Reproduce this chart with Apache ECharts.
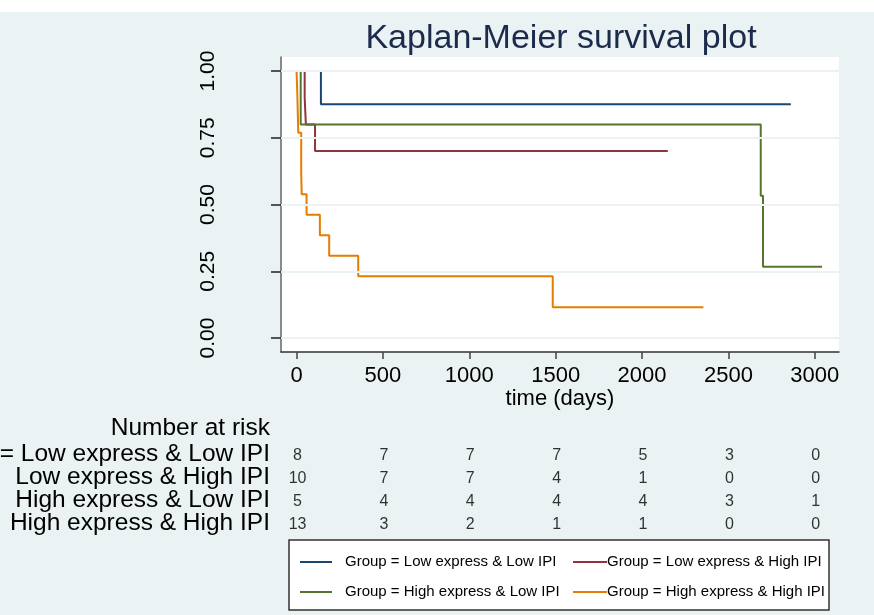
<!DOCTYPE html>
<html><head><meta charset="utf-8">
<script src="https://cdn.jsdelivr.net/npm/echarts@6/dist/echarts.min.js"></script>
<style>html,body{margin:0;padding:0;background:#fff}#c{width:874px;height:615px}</style>
</head><body><div id="c"></div>
<script>
// ---- data ----
const groupNames = ['Low express & Low IPI', 'Low express & High IPI', 'High express & Low IPI', 'High express & High IPI'];
const seriesNames = groupNames.map(g => 'Group = ' + g);
const riskRowLabels = ['Group = Low express & Low IPI', 'Low express & High IPI', 'High express & Low IPI', 'High express & High IPI'];

const timesLowLow = [0, 141, 2861];
const survLowLow = [1, 0.875, 0.875];
const timesLowHigh = [0, 47, 54, 107, 2149];
const survLowHigh = [1, 0.9, 0.8, 0.7, 0.7];
const timesHighLow = [0, 24, 2687, 2700, 3042];
const survHighLow = [1, 0.8, 0.533, 0.267, 0.267];
const timesHighHigh = [0, 4, 10, 27, 30, 58, 135, 189, 357, 1483, 2355];
const survHighHigh = [1, 0.923, 0.769, 0.615, 0.538, 0.462, 0.385, 0.308, 0.231, 0.115, 0.115];

const riskTimes = [0, 500, 1000, 1500, 2000, 2500, 3000];
const riskLowLow = [8, 7, 7, 7, 5, 3, 0];
const riskLowHigh = [10, 7, 7, 4, 1, 0, 0];
const riskHighLow = [5, 4, 4, 4, 4, 3, 1];
const riskHighHigh = [13, 3, 2, 1, 1, 0, 0];

const xTicks = [0, 500, 1000, 1500, 2000, 2500, 3000];
const yTicks = [0, 0.25, 0.5, 0.75, 1];

// ---- build ----
const colors = ['#1a476f', '#90353b', '#55752f', '#e37e00'];
const curveTimes = [timesLowLow, timesLowHigh, timesHighLow, timesHighHigh];
const curveSurv = [survLowLow, survLowHigh, survHighLow, survHighHigh];
const riskRows = [riskLowLow, riskLowHigh, riskHighLow, riskHighHigh];
const FONT = 'Liberation Sans, Arial, Helvetica, sans-serif';

const xMin = -90, xMax = 3140, yMin = -0.0524, yMax = 1.0524;

const curveSeries = curveTimes.map((ts, i) => ({
  name: seriesNames[i],
  type: 'line',
  step: 'end',
  xAxisIndex: 0, yAxisIndex: 0,
  showSymbol: false,
  symbol: 'none',
  z: 3,
  color: colors[i],
  lineStyle: { width: 2, color: colors[i] },
  data: ts.map((t, k) => [t, curveSurv[i][k]]),
  animation: false
}));

const gridLineSeries = {
  name: 'grid',
  type: 'line',
  xAxisIndex: 0, yAxisIndex: 0,
  data: [],
  z: 1,
  silent: true,
  markLine: {
    silent: true,
    symbol: ['none', 'none'],
    label: { show: false },
    lineStyle: { color: '#eaf2f3', width: 2, type: 'solid' },
    data: yTicks.map(v => ({ yAxis: v })),
    animation: false
  },
  animation: false
};

const riskData = [];
riskRows.forEach((row, r) => row.forEach((n, k) => riskData.push([riskTimes[k], r, n])));
const riskSeries = {
  name: 'risk',
  type: 'scatter',
  xAxisIndex: 1, yAxisIndex: 1,
  symbolSize: 1,
  itemStyle: { color: 'rgba(0,0,0,0)' },
  label: {
    show: true, position: 'inside',
    formatter: p => String(p.value[2]),
    color: '#000', fontSize: 16, fontFamily: FONT,
    offset: [1, 2]
  },
  silent: true,
  data: riskData,
  animation: false
};

const chart = echarts.init(document.getElementById('c'), null, { renderer: 'canvas' });
chart.setOption({
  backgroundColor: '#eaf2f3',
  animation: false,
  title: {
    text: 'Kaplan-Meier survival plot',
    left: 561, top: 22, padding: 0,
    textAlign: 'center',
    textStyle: { fontFamily: FONT, fontSize: 34, fontWeight: 'normal', color: '#1c2b4b' }
  },
  grid: [
    { left: 281, right: 35, top: 57, height: 295, show: true, backgroundColor: '#ffffff', borderWidth: 0, containLabel: false, outerBoundsMode: 'none' },
    { left: 281, right: 35, top: 442.5, height: 92, containLabel: false, outerBoundsMode: 'none' }
  ],
  xAxis: [
    {
      type: 'value', gridIndex: 0, min: xMin, max: xMax,
      name: 'time (days)', nameLocation: 'middle', nameGap: 36,
      nameTextStyle: { fontFamily: FONT, fontSize: 22, color: '#000' },
      axisLine: { show: true, onZero: false, lineStyle: { color: '#333', width: 1.5 } },
      axisTick: { show: true, customValues: xTicks, length: 7, lineStyle: { color: '#444', width: 1.5 } },
      axisLabel: { customValues: xTicks, formatter: v => String(v), fontFamily: FONT, fontSize: 22, color: '#000', margin: 13 },
      splitLine: { show: false }
    },
    { type: 'value', gridIndex: 1, min: xMin, max: xMax, show: false, axisLine: { onZero: false } }
  ],
  yAxis: [
    {
      type: 'value', gridIndex: 0, min: yMin, max: yMax,
      axisLine: { show: true, onZero: false, lineStyle: { color: '#666', width: 1.5 } },
      axisTick: { show: true, customValues: yTicks, length: 10, lineStyle: { color: '#222', width: 1.5 } },
      axisLabel: { customValues: yTicks, rotate: 90, formatter: v => v.toFixed(2), fontFamily: FONT, fontSize: 21, color: '#000', margin: 62 },
      splitLine: { show: false }
    },
    {
      type: 'category', gridIndex: 1, inverse: true, data: riskRowLabels,
      axisLine: { show: false, onZero: false }, axisTick: { show: false }, splitLine: { show: false },
      axisLabel: { interval: 0, fontFamily: FONT, fontSize: 24.5, color: '#000', margin: 11 }
    }
  ],
  legend: [
    {
      data: [seriesNames[0], seriesNames[2]],
      orient: 'vertical', left: 300, top: 554, padding: 0,
      icon: 'rect', itemWidth: 32, itemHeight: 2, itemGap: 14,
      textStyle: { fontFamily: FONT, fontSize: 15, color: '#000', lineHeight: 16, padding: [0, 0, 0, 8] },
      selectedMode: false
    },
    {
      data: [seriesNames[1], seriesNames[3]],
      orient: 'vertical', left: 573, top: 554, padding: 0,
      icon: 'rect', itemWidth: 34, itemHeight: 2, itemGap: 14,
      textStyle: { fontFamily: FONT, fontSize: 15, color: '#000', lineHeight: 16, padding: [0, 0, 0, -5] },
      selectedMode: false
    }
  ],
  graphic: [
    { type: 'rect', z: -10, silent: true, shape: { x: 0, y: 0, width: 874, height: 12 }, style: { fill: '#ffffff' } },
    { type: 'rect', z: -5, silent: true, shape: { x: 289, y: 540, width: 540, height: 70 }, style: { fill: '#ffffff', stroke: '#333', lineWidth: 1.5 } },
    { type: 'text', z: 5, silent: true, x: 270, y: 428, style: { text: 'Number at risk', fill: '#000', font: '24.5px ' + FONT, textAlign: 'right', textVerticalAlign: 'middle' } }
  ],
  series: [gridLineSeries].concat(curveSeries).concat([riskSeries])
});
</script>
</body></html>
